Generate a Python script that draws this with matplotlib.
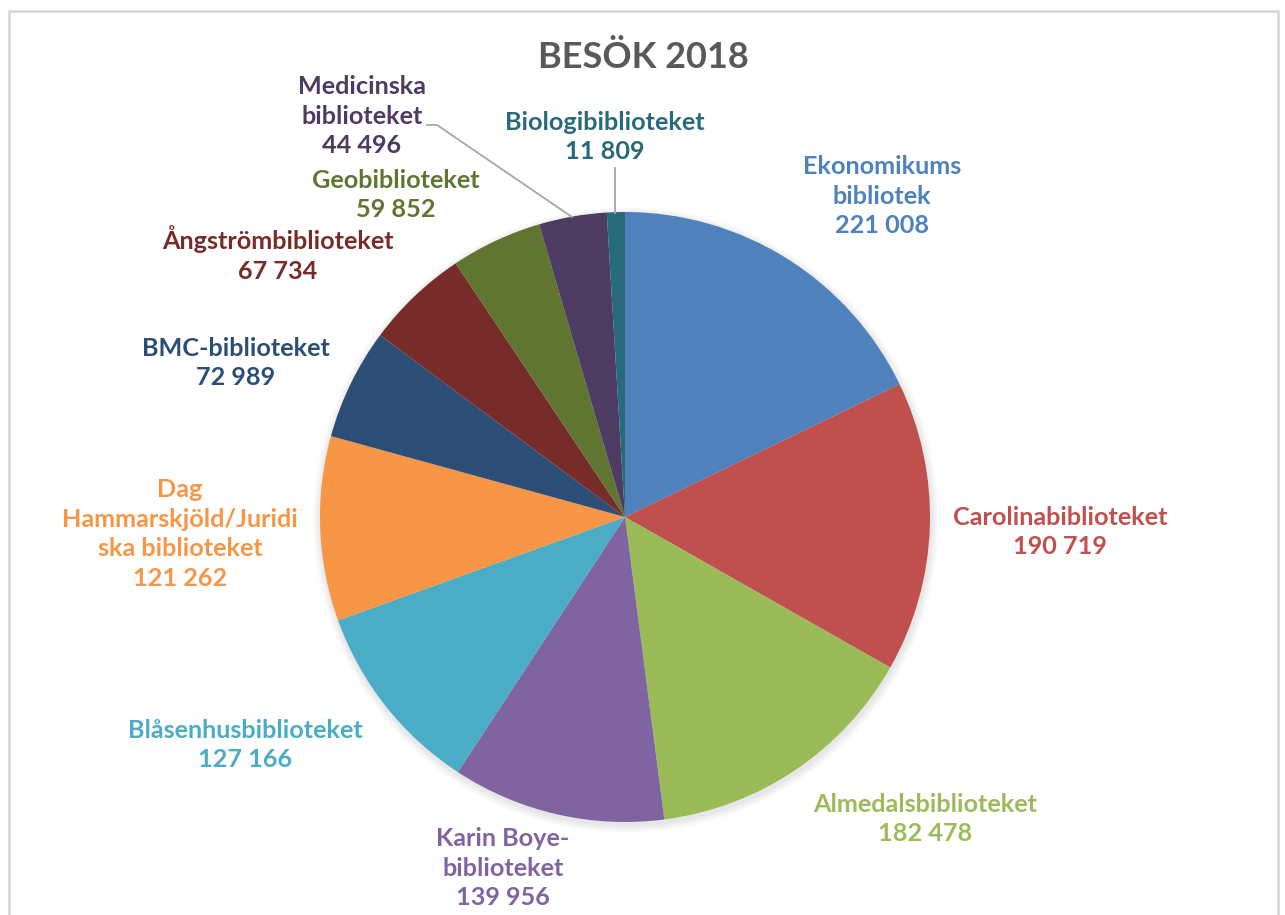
import matplotlib
matplotlib.use("Agg")
import matplotlib.pyplot as plt
from matplotlib.patches import Rectangle, Circle

names = ["Ekonomikums\nbibliotek", "Carolinabiblioteket", "Almedalsbiblioteket",
         "Karin Boye-\nbiblioteket", "Blåsenhusbiblioteket",
         "Dag\nHammarskjöld/Juridi\nska biblioteket", "BMC-biblioteket",
         "Ångströmbiblioteket", "Geobiblioteket", "Medicinska\nbiblioteket",
         "Biologibiblioteket"]
values = [221008, 190719, 182478, 139956, 127166, 121262, 72989, 67734, 59852, 44496, 11809]
colors = ["#4F81BD", "#C0504D", "#9BBB59", "#8064A2", "#4BACC6", "#F79646",
          "#2C4D75", "#772C2A", "#5F7530", "#4D3B62", "#276A7C"]
title = "BESÖK 2018"

W, H = 1285, 915
fig = plt.figure(figsize=(W / 100, H / 100), dpi=100)
ax = fig.add_axes([0, 0, 1, 1])

def Y(y):
    return H - y

# border
ax.add_patch(Rectangle((9, Y(960)), 1269, 949, fill=False, edgecolor="#D9D9D9", lw=2, zorder=0))

cx, cy, r = 625, 517, 305
# soft shadow
for i in range(8):
    ax.add_patch(Circle((cx + 1, Y(cy) - 3), r + 8 - i, color="black", alpha=0.012, lw=0, zorder=1))

ax.pie(values, colors=colors, startangle=90, counterclock=False,
       center=(cx, Y(cy)), radius=r, frame=True,
       wedgeprops=dict(linewidth=0, zorder=2))
ax.set_xlim(0, W)
ax.set_ylim(0, H)
ax.set_aspect("equal")
ax.axis("off")

label_pos = [(882, 196), (1060, 532), (925, 819), (503, 868), (245, 745),
             (180, 534), (236, 363), (278, 254), (396, 195), (362, 116), (605, 137)]

def fmt(v):
    return f"{v:,}".replace(",", " ")

for n, v, c, (x, y) in zip(names, values, colors, label_pos):
    ax.text(x, Y(y), n + "\n" + fmt(v), ha="center", va="center", multialignment="center",
            color=c, fontsize=18.2, fontweight="bold", family="Lato", linespacing=1.36, zorder=5)

# leader lines
ax.plot([427, 437, 572], [Y(125), Y(125), Y(217)], color="#A6A6A6", lw=1.3, zorder=4)
ax.plot([615, 615], [Y(168), Y(213)], color="#A6A6A6", lw=1.3, zorder=4)

ax.text(643, Y(58), title, ha="center", va="center", color="#595959",
        fontsize=26, fontweight="bold", family="Lato")

fig.savefig("out.png", dpi=100)
